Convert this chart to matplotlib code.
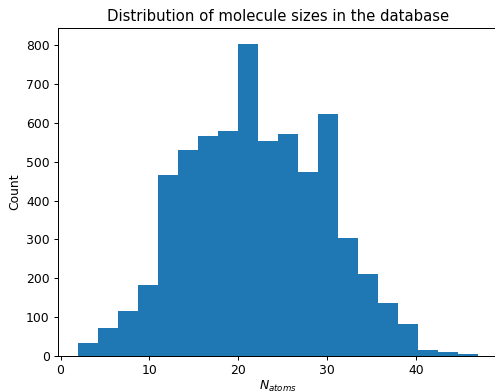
import numpy as np
import matplotlib
matplotlib.use("Agg")
import matplotlib.pyplot as plt

# Histogram of molecule sizes: 20 equal-width bins between 2 and 47 atoms
bin_lo = 2
bin_hi = 47
n_bins = 20
counts = [33, 71, 115, 182, 466, 531, 567, 580, 804, 554,
          572, 474, 624, 304, 211, 136, 82, 15, 10, 4]

edges = np.linspace(bin_lo, bin_hi, n_bins + 1)
centers = 0.5 * (edges[:-1] + edges[1:])

W, H, DPI = 495, 392, 89
fig = plt.figure(figsize=(W / DPI, H / DPI), dpi=DPI)
ax = fig.add_axes([58.3 / W, 36.3 / H, (498 - 58.3) / W, (355.7 - 28.3) / H])
ax.hist(centers, bins=edges, weights=counts, color="#1f77b4")
ax.spines["right"].set_visible(False)
ax.set_title("Distribution of molecule sizes in the database")
ax.set_xlabel("$N_{atoms}$", labelpad=1.5)
ax.set_ylabel("Count")

fig.savefig("out.png", dpi=DPI)
